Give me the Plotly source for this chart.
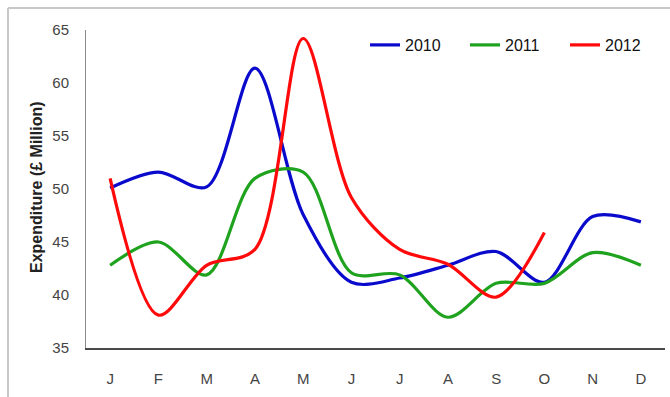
import plotly.graph_objects as go

# Monthly expenditure (£ Million) by year
months = ["J", "F", "M", "A", "M", "J", "J", "A", "S", "O", "N", "D"]
exp_2010 = [50.1, 51.6, 50.2, 61.4, 47.6, 41.2, 41.6, 42.8, 44.1, 41.2, 47.4, 46.9]
exp_2011 = [42.8, 45.0, 41.9, 51.0, 51.6, 42.1, 41.9, 37.9, 41.1, 41.1, 44.0, 42.8]
exp_2012 = [51.0, 38.1, 42.8, 44.3, 64.2, 49.2, 44.3, 42.9, 39.8, 45.9]

series = [
    ("2010", exp_2010, "#0A0ACD"),
    ("2011", exp_2011, "#1FA31F"),
    ("2012", exp_2012, "#FF0A0A"),
]

W, H = 670, 397
L, R, T, B = 86, 5, 30, 49
FONT = "Liberation Sans Narrow, Liberation Sans, Arial, sans-serif"

fig = go.Figure()
for name, vals, color in series:
    fig.add_trace(go.Scatter(
        x=list(range(len(vals))), y=vals, name=name, mode="lines",
        line=dict(color=color, width=3.2, shape="spline", smoothing=0.9),
    ))

pw = W - L - R
ph = H - T - B
def px_x(px):
    return (px - L) / pw
def px_y(py):
    return (H - B - py) / ph

fig.update_layout(
    width=W, height=H,
    margin=dict(l=L, r=R, t=T, b=B),
    paper_bgcolor="white", plot_bgcolor="white",
    font=dict(family=FONT, size=15, color="#333333"),
    showlegend=True,
    legend=dict(
        orientation="h", x=1.0, xanchor="right", y=px_y(45), yanchor="middle",
        font=dict(family=FONT, size=16, color="#111111"), bgcolor="rgba(0,0,0,0)",
        entrywidth=55, entrywidthmode="pixels", tracegroupgap=0,
    ),
    xaxis=dict(
        range=[-0.5, 11.5], tickmode="array",
        tickvals=list(range(12)), ticktext=months,
        showgrid=False, zeroline=False,
        showline=True, linecolor="#4a4a4a", linewidth=2,
        ticks="", ticklabelstandoff=16,
        tickfont=dict(family=FONT, size=15, color="#444444"),
    ),
    yaxis=dict(
        range=[35, 65], tickmode="array", tickvals=[35, 40, 45, 50, 55, 60, 65],
        showgrid=False, zeroline=False,
        showline=True, linecolor="#8a8a8a", linewidth=1,
        ticks="", ticklabelstandoff=13,
        tickfont=dict(family=FONT, size=15, color="#444444"),
    ),
)

# Vertical axis title
fig.add_annotation(
    text="<b>Expenditure (£ Million)</b>", textangle=-90,
    xref="paper", yref="paper", x=px_x(36), y=px_y(187),
    xanchor="center", yanchor="middle", showarrow=False,
    font=dict(family="Liberation Sans, Arial, sans-serif", size=16, color="#222222"),
)

# Light frame around the chart area (top and left edges)
fig.add_shape(type="line", xref="paper", yref="paper",
              x0=px_x(8), x1=px_x(672), y0=px_y(8), y1=px_y(8),
              line=dict(color="#c8c8c8", width=2))
fig.add_shape(type="line", xref="paper", yref="paper",
              x0=px_x(8), x1=px_x(8), y0=px_y(8), y1=px_y(400),
              line=dict(color="#c8c8c8", width=2))

fig.write_html("out.html")
